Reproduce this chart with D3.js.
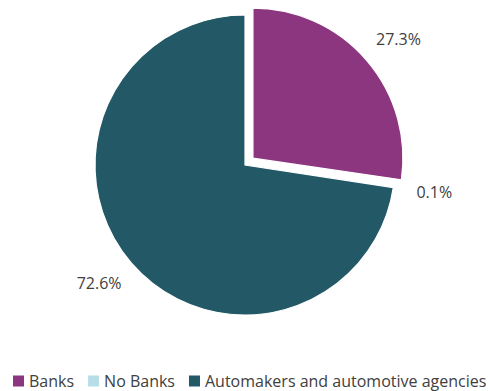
<!DOCTYPE html>
<html>
<head>
<meta charset="utf-8">
<script src="https://cdn.jsdelivr.net/npm/d3@7"></script>
<style>
  body { margin: 0; background: #fff; }
  text { font-family: "Open Sans", "Liberation Sans", sans-serif; fill: #404040; }
</style>
</head>
<body>
<svg id="chart" width="488" height="391"></svg>
<script>
// data
const categories = ["Banks", "No Banks", "Automakers and automotive agencies"];
const shares = [27.3, 0.1, 72.6];
const labels = ["27.3%", "0.1%", "72.6%"];
const colors = ["#8C3680", "#B7DEE8", "#235967"];
const exploded = [true, true, false];

const width = 488, height = 391;
const cx = 245, cy = 165, radius = 150, explode = 10.5;

const svg = d3.select("#chart");

const data = categories.map((c, i) => ({ name: c, value: shares[i], label: labels[i], color: colors[i], out: exploded[i] }));

const pie = d3.pie().value(d => d.value).sort(null);
const arc = d3.arc().innerRadius(0).outerRadius(radius);
const arcs = pie(data);

const g = svg.append("g").attr("transform", "translate(" + cx + "," + cy + ")");

// slices
const slices = g.selectAll("g.slice")
  .data(arcs)
  .join("g")
    .attr("class", "slice")
    .attr("transform", d => {
      if (!d.data.out) return null;
      const a = (d.startAngle + d.endAngle) / 2;
      return "translate(" + explode * Math.sin(a) + "," + (-explode * Math.cos(a)) + ")";
    });

slices.append("path")
  .attr("d", arc)
  .attr("fill", d => d.data.color)
  .attr("stroke", "#fff")
  .attr("stroke-width", 1.2);

// labels outside the end of each slice
slices.append("text")
  .text(d => d.data.label)
  .style("font-size", "16px")
  .attr("text-anchor", "middle")
  .attr("dy", "0.35em")
  .each(function(d) {
    const a = (d.startAngle + d.endAngle) / 2;
    const box = this.getBBox();
    const gap = d.data.value < 1 ? 13 : 20;
    const x = (radius + gap) * Math.sin(a) + box.width / 2 * Math.sin(a);
    const y = -(radius + gap) * Math.cos(a) - box.height / 2 * Math.cos(a);
    d3.select(this).attr("x", x).attr("y", y);
  });

// legend
const legend = svg.append("g").attr("transform", "translate(13,381)");
let lx = 0;
categories.forEach((c, i) => {
  const item = legend.append("g").attr("transform", "translate(" + lx + ",0)");
  item.append("rect")
    .attr("x", 0).attr("y", -5.5)
    .attr("width", 11).attr("height", 11)
    .attr("fill", colors[i]);
  const t = item.append("text")
    .attr("x", 16).attr("dy", "0.35em")
    .style("font-size", "16px")
    .text(c);
  lx += 16 + t.node().getComputedTextLength() + 14;
});
</script>
</body>
</html>
